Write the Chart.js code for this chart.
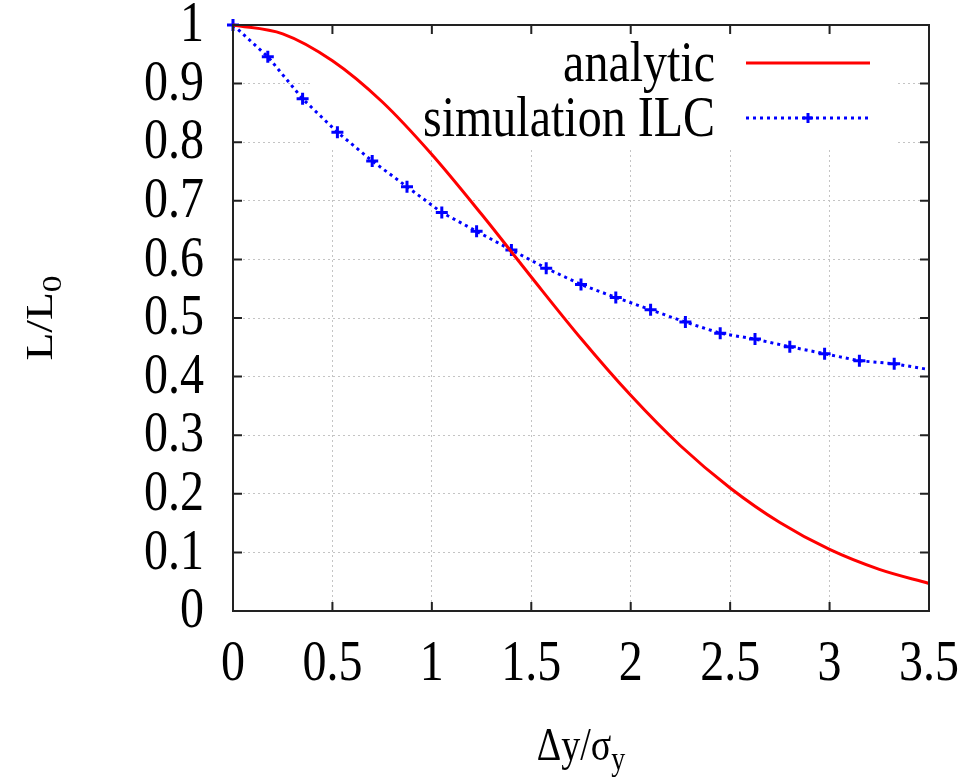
<!DOCTYPE html>
<html>
<head>
<meta charset="utf-8">
<script src="https://cdn.jsdelivr.net/npm/chart.js@4"></script>
<style>
  body { margin:0; background:#fff; }
  #wrap { width:972px; height:782px; position:relative; }
</style>
</head>
<body>
<div id="wrap"><canvas id="chartLumi"></canvas></div>
<script>
// analytic curve
const xAnalytic = [0, 0.25, 0.5, 0.75, 1.0, 1.25, 1.5, 1.75, 2.0, 2.25, 2.5, 2.75, 3.0, 3.25, 3.5];
const yAnalytic = [1.000, 0.985, 0.939, 0.869, 0.779, 0.677, 0.570, 0.465, 0.368, 0.282, 0.210, 0.151, 0.105, 0.071, 0.047];

// simulation ILC points
const xSim = [0, 0.175, 0.35, 0.525, 0.7, 0.875, 1.05, 1.225, 1.4, 1.575, 1.75, 1.925, 2.1, 2.275, 2.45, 2.625, 2.8, 2.975, 3.15, 3.325, 3.5];
const ySim = [1.000, 0.946, 0.874, 0.817, 0.768, 0.724, 0.680, 0.648, 0.616, 0.585, 0.557, 0.535, 0.514, 0.493, 0.474, 0.464, 0.451, 0.439, 0.427, 0.422, 0.412];

const xTicks = [0, 0.5, 1, 1.5, 2, 2.5, 3, 3.5];
const yTicks = [0, 0.1, 0.2, 0.3, 0.4, 0.5, 0.6, 0.7, 0.8, 0.9, 1];

const legendLabels = ['analytic', 'simulation ILC'];
const FONT = '"Liberation Serif", "DejaVu Serif", serif';
const SY = 1.2;   // the original's text is drawn a bit taller than wide

const toPts = (xs, ys) => xs.map((x, i) => ({ x: x, y: ys[i] }));

function tallText(ctx, txt, x, y, size, align, base) {
  ctx.save();
  ctx.translate(x, y);
  ctx.scale(1, SY);
  ctx.font = size + 'px ' + FONT;
  ctx.textAlign = align;
  ctx.textBaseline = base;
  ctx.fillText(txt, 0, 0);
  ctx.restore();
}

// gnuplot-like frame: white key box under the curves, inward tics, labels, legend, titles
const gnuplotLook = {
  id: 'gnuplotLook',
  beforeDatasetsDraw(chart) {
    const ctx = chart.ctx, a = chart.chartArea;
    ctx.save();
    ctx.fillStyle = '#fff';
    ctx.fillRect(a.left + 77, a.top + 1, 587, 121);   // opaque key area
    ctx.restore();
  },
  afterDatasetsDraw(chart) {
    const ctx = chart.ctx, a = chart.chartArea;
    const xs = chart.scales.x, ys = chart.scales.y;
    ctx.save();
    // frame
    ctx.strokeStyle = '#222';
    ctx.lineWidth = 2;
    ctx.strokeRect(a.left, a.top, a.right - a.left, a.bottom - a.top);
    // inward tics on all four sides
    ctx.beginPath();
    xs.ticks.forEach(t => {
      const px = xs.getPixelForValue(t.value);
      ctx.moveTo(px, a.bottom); ctx.lineTo(px, a.bottom - 9);
      ctx.moveTo(px, a.top); ctx.lineTo(px, a.top + 9);
    });
    ys.ticks.forEach(t => {
      const py = ys.getPixelForValue(t.value);
      ctx.moveTo(a.left, py); ctx.lineTo(a.left + 9, py);
      ctx.moveTo(a.right, py); ctx.lineTo(a.right - 9, py);
    });
    ctx.stroke();

    // tick labels
    ctx.fillStyle = '#000';
    xs.ticks.forEach(t => {
      tallText(ctx, String(t.value), xs.getPixelForValue(t.value), a.bottom + 54, 48, 'center', 'middle');
    });
    ys.ticks.forEach(t => {
      tallText(ctx, String(t.value), a.left - 29, ys.getPixelForValue(t.value) + 1, 48, 'right', 'middle');
    });

    // legend
    const ds = chart.data.datasets;
    const textRight = a.left + 482, lineL = a.left + 513, lineR = a.left + 637;
    const rows = [a.top + 38, a.top + 93];
    ds.forEach((d, i) => {
      tallText(ctx, legendLabels[i], textRight, rows[i] + 18, 48, 'right', 'alphabetic');
      ctx.strokeStyle = d.borderColor;
      ctx.lineWidth = d.borderWidth;
      ctx.setLineDash(d.borderDash || []);
      ctx.beginPath();
      ctx.moveTo(lineL, rows[i]); ctx.lineTo(lineR, rows[i]);
      ctx.stroke();
      ctx.setLineDash([]);
      if (d.pointStyle === 'cross') {
        const cx = (lineL + lineR) / 2, r = 5;
        ctx.lineWidth = 3;
        ctx.beginPath();
        ctx.moveTo(cx - r, rows[i]); ctx.lineTo(cx + r, rows[i]);
        ctx.moveTo(cx, rows[i] - r); ctx.lineTo(cx, rows[i] + r);
        ctx.stroke();
      }
    });

    // x title: Δy/σ_y
    ctx.font = '38px ' + FONT;
    const main = 'Δy/σ';
    const wMain = ctx.measureText(main).width;
    ctx.font = '28px ' + FONT;
    const wSub = ctx.measureText('y').width;
    const tx = (a.left + a.right) / 2 - (wMain + wSub) / 2;
    tallText(ctx, main, tx, 760, 38, 'left', 'alphabetic');
    tallText(ctx, 'y', tx + wMain, 770, 28, 'left', 'alphabetic');

    // y title: L/L_0, rotated
    ctx.font = '38px ' + FONT;
    const wy = ctx.measureText('L/L').width;
    ctx.font = '28px ' + FONT;
    const wy0 = ctx.measureText('0').width;
    ctx.translate(52, (a.top + a.bottom) / 2);
    ctx.scale(1, SY);
    ctx.rotate(-Math.PI / 2);
    ctx.textBaseline = 'alphabetic';
    ctx.textAlign = 'left';
    const sx = -(wy + wy0) / 2;
    ctx.font = '38px ' + FONT;
    ctx.fillText('L/L', sx, 0);
    ctx.font = '28px ' + FONT;
    ctx.fillText('0', sx + wy, 9);
    ctx.restore();
  }
};

new Chart(document.getElementById('chartLumi'), {
  type: 'line',
  data: {
    datasets: [{
      label: legendLabels[0], data: toPts(xAnalytic, yAnalytic),
      borderColor: '#ff0000', borderWidth: 3,
      cubicInterpolationMode: 'monotone', pointRadius: 0, fill: false, clip: false
    },{
      label: legendLabels[1], data: toPts(xSim, ySim),
      borderColor: '#0000ff', backgroundColor: '#0000ff', borderWidth: 3, borderDash: [3, 4],
      pointStyle: 'cross', pointRadius: ctx => ctx.dataIndex === xSim.length - 1 ? 0 : 6,
      pointBorderWidth: 3, pointBorderColor: '#0000ff', tension: 0, fill: false, clip: false
    }]
  },
  options: {
    responsive: true, maintainAspectRatio: false, animation: false,
    layout: { padding: { left: 0, top: 25, right: 43, bottom: 0 } },
    plugins: { legend: { display: false }, tooltip: { enabled: false } },
    scales: {
      x: {
        type: 'linear', min: 0, max: 3.5,
        afterBuildTicks: s => { s.ticks = xTicks.map(v => ({ value: v })); },
        afterFit: s => { s.height = 171; },
        grid: { color: '#c4c4c4', lineWidth: 1, drawTicks: false },
        border: { display: false, dash: [2, 3] },
        ticks: { display: false, autoSkip: false }
      },
      y: {
        type: 'linear', min: 0, max: 1,
        afterBuildTicks: s => { s.ticks = yTicks.map(v => ({ value: v })); },
        afterFit: s => { s.width = 233; },
        grid: { color: '#c4c4c4', lineWidth: 1, drawTicks: false },
        border: { display: false, dash: [2, 3] },
        ticks: { display: false, autoSkip: false }
      }
    }
  },
  plugins: [gnuplotLook]
});
</script>
</body>
</html>
